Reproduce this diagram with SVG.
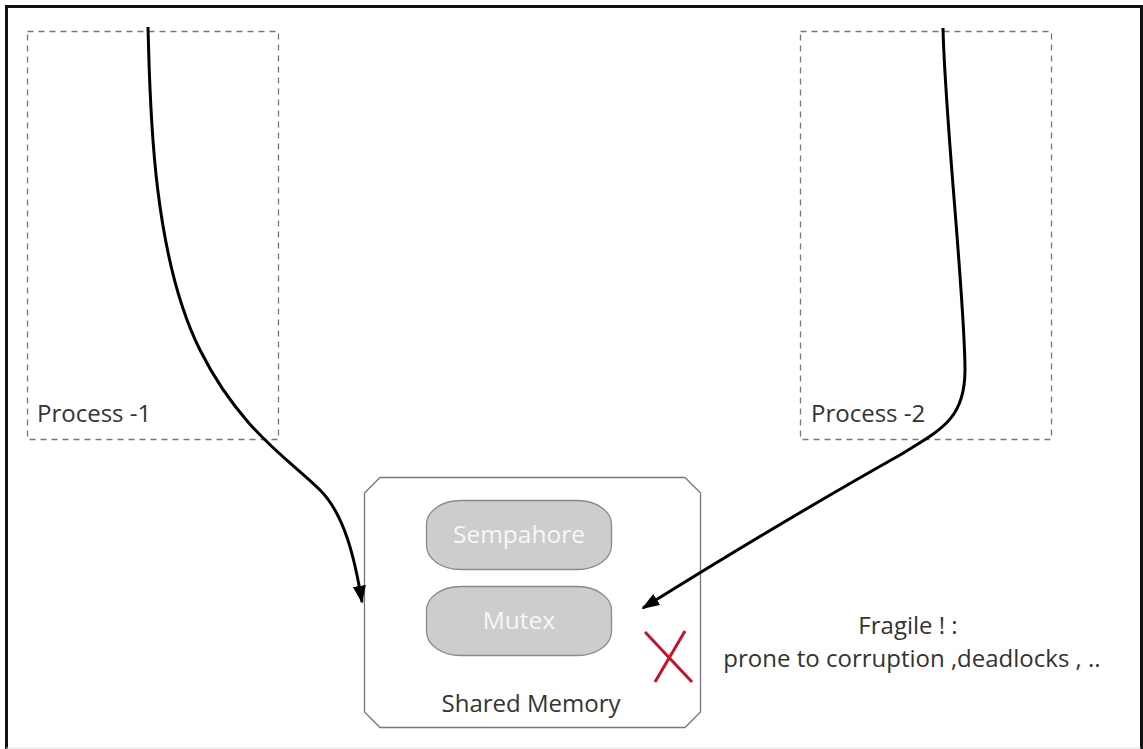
<svg xmlns="http://www.w3.org/2000/svg" width="1143" height="749" viewBox="0 0 1143 749">
<defs>
<style>
.frame{fill:#fff;stroke:#111;stroke-width:3}
.proc{fill:none;stroke:#777;stroke-width:1.3;stroke-dasharray:6,5}
.pill{fill:#cdcdcd;stroke:#8a8a8a;stroke-width:1.3}
.lbl{font-family:"Open Sans","Noto Sans",sans-serif;font-size:24px;fill:#333}
.pilltxt{font-family:"Open Sans","Noto Sans",sans-serif;font-size:24.5px;fill:#f7f7f7;text-anchor:middle}
.conn{fill:none;stroke:#000;stroke-width:3}
</style>
<marker id="ah" viewBox="0 0 10 10" refX="9" refY="5" markerWidth="18" markerHeight="13" markerUnits="userSpaceOnUse" orient="auto" preserveAspectRatio="none">
<path d="M0,0 L10,5 L0,10 z" fill="#000"/>
</marker>
</defs>
<rect x="0" y="0" width="1143" height="749" fill="#fff"/>
<rect class="frame" x="6.5" y="6.5" width="1135" height="744"/>
<line x1="6" y1="748" x2="1141" y2="748" stroke="#ddd" stroke-width="1"/>
<g id="process1">
<rect class="proc" x="27.5" y="31.5" width="251" height="408"/>
<text class="lbl" x="37" y="422">Process -1</text>
</g>
<g id="process2">
<rect class="proc" x="800.5" y="31.5" width="251" height="408"/>
<text class="lbl" x="811" y="422">Process -2</text>
</g>
<g id="shared-memory">
<path d="M380,477.5 L685,477.5 L700.5,493 L700.5,712 L685,727.5 L380,727.5 L364.5,712 L364.5,493 Z" fill="#fff" stroke="#777" stroke-width="1.3"/>
<text class="lbl" x="531" y="712" text-anchor="middle">Shared Memory</text>
</g>
<g id="semaphore">
<rect class="pill" x="426.5" y="500.5" width="185" height="69" rx="34" ry="24"/>
<text class="pilltxt" x="519" y="543">Sempahore</text>
</g>
<g id="mutex">
<rect class="pill" x="426.5" y="586.5" width="185" height="69" rx="34" ry="24"/>
<text class="pilltxt" x="519" y="629">Mutex</text>
</g>
<g id="cross">
<line x1="645" y1="632" x2="692" y2="682" stroke="#c4122f" stroke-width="3"/>
<line x1="685" y1="631" x2="655" y2="682" stroke="#c4122f" stroke-width="3"/>
</g>
<g id="note">
<text class="lbl" x="908" y="634" text-anchor="middle">Fragile ! :</text>
<text class="lbl" x="912" y="667" text-anchor="middle">prone to corruption ,deadlocks , ..</text>
</g>
<g id="connectors">
<path class="conn" marker-end="url(#ah)" d="M148,27 C150,90 150,250 200,350 C240,430 290,460 320,490 C345,515 355,560 362,602"/>
<path class="conn" marker-end="url(#ah)" d="M943,28 C945,120 965,300 965,370 C965,420 940,430 900,455 C820,500 720,560 643,608"/>
</g>
</svg>
